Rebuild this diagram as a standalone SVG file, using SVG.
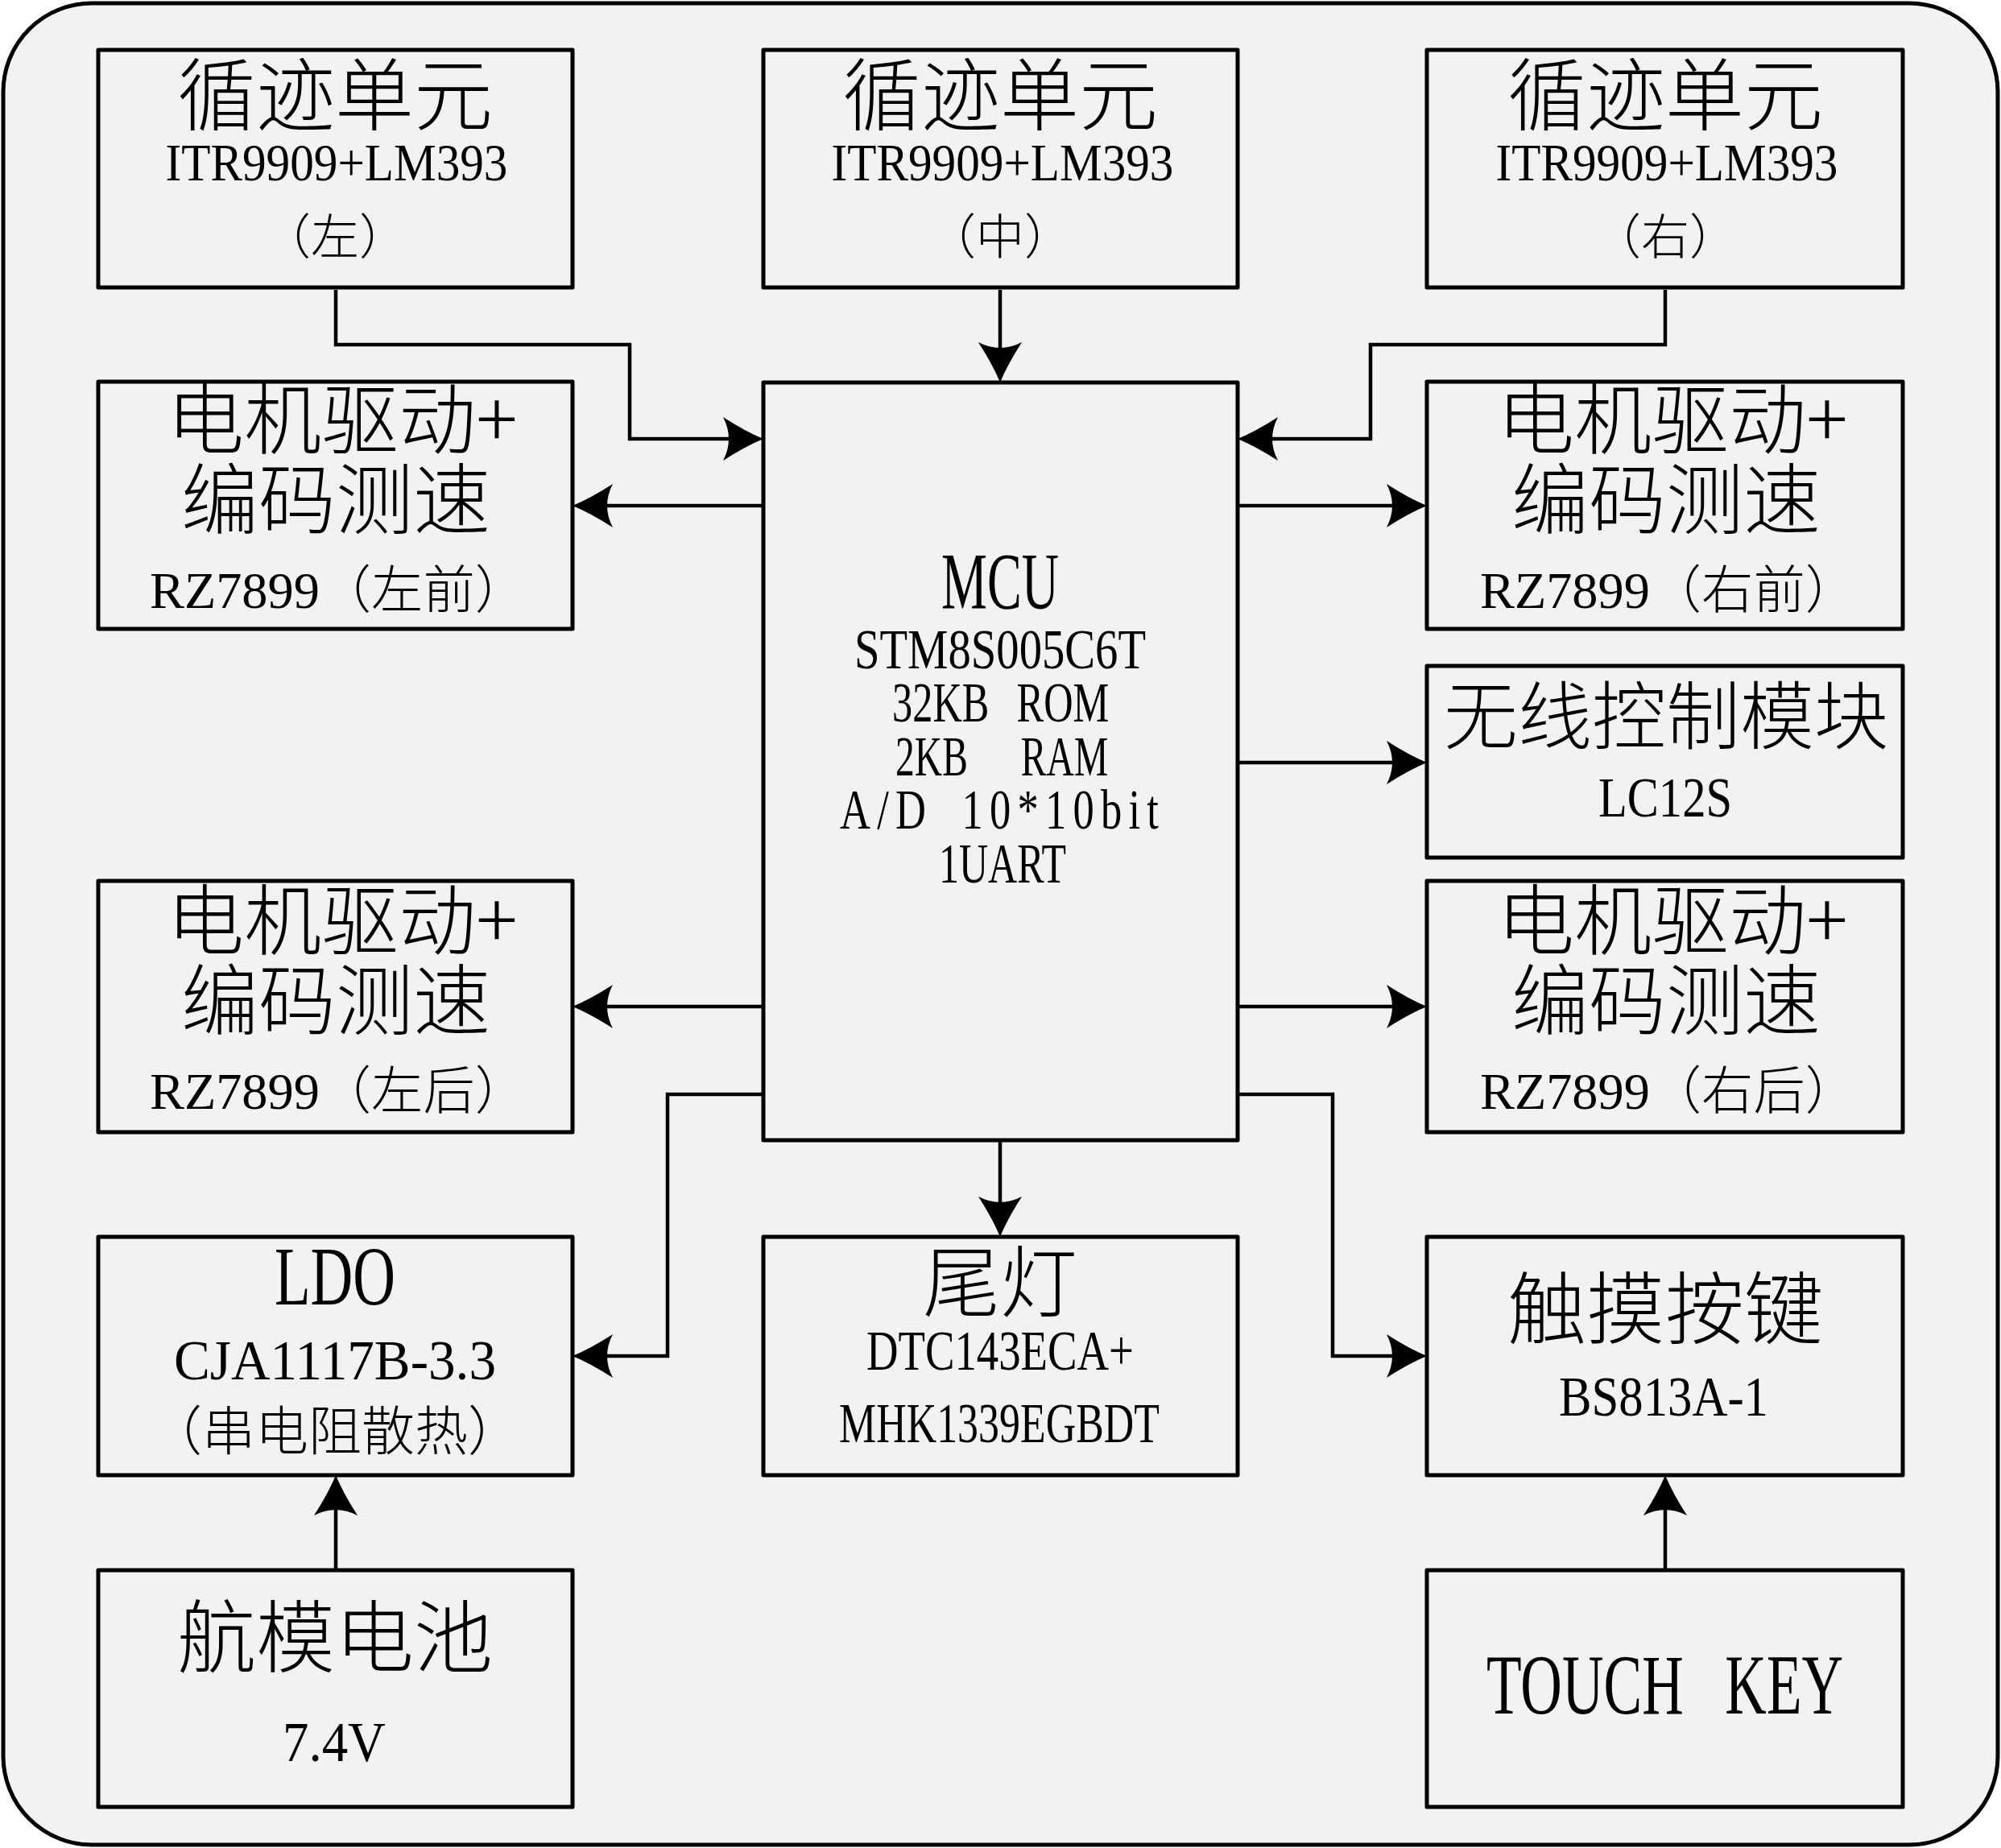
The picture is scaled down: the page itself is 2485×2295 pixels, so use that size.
<svg xmlns="http://www.w3.org/2000/svg" width="2485" height="2295" viewBox="0 0 2485 2295">
<style>
.box{fill:#f2f2f2;stroke:#000;stroke-width:5;stroke-linejoin:round}
.cn{fill:none;stroke:#000;stroke-width:4.5;stroke-linejoin:miter}
text{font-family:"Liberation Serif","Noto Sans CJK SC",serif;fill:#000;text-anchor:middle}
.zh{font-family:"Noto Sans CJK SC","Liberation Serif",sans-serif;font-weight:300}
.lat{font-size:70px}
.st{text-anchor:start}
</style>
<defs>
<marker id="ah" markerUnits="userSpaceOnUse" markerWidth="80" markerHeight="80" viewBox="0 -40 80 80" refX="50" refY="0" orient="auto" overflow="visible">
<path d="M58,0 Q36,-9 8,-27 Q22,0 8,27 Q36,9 58,0 Z" fill="#000"/>
</marker>
</defs>
<rect x="0" y="0" width="2485" height="2295" fill="#fff"/>
<rect x="4" y="4" width="2477" height="2287" rx="110" ry="110" fill="#f2f2f2" stroke="#000" stroke-width="5"/>

<g id="connectors">
<path class="cn" d="M417,360 V428 H782 V545 H940" marker-end="url(#ah)"/>
<path class="cn" d="M1242,360 V467" marker-end="url(#ah)"/>
<path class="cn" d="M2068,360 V428 H1702 V545 H1545" marker-end="url(#ah)"/>
<path class="cn" d="M948,628 H719" marker-end="url(#ah)"/>
<path class="cn" d="M1537,628 H1764" marker-end="url(#ah)"/>
<path class="cn" d="M1537,947 H1764" marker-end="url(#ah)"/>
<path class="cn" d="M948,1250 H719" marker-end="url(#ah)"/>
<path class="cn" d="M1537,1250 H1764" marker-end="url(#ah)"/>
<path class="cn" d="M948,1359 H829 V1684 H719" marker-end="url(#ah)"/>
<path class="cn" d="M1537,1359 H1655 V1684 H1764" marker-end="url(#ah)"/>
<path class="cn" d="M1242,1416 V1528" marker-end="url(#ah)"/>
<path class="cn" d="M417,1950 V1840" marker-end="url(#ah)"/>
<path class="cn" d="M2068,1950 V1840" marker-end="url(#ah)"/>
</g>

<g id="track-left">
<rect class="box" x="122" y="62" width="589" height="295"/>
<text class="zh" x="416" y="154" font-size="98">循迹单元</text>
<text x="418" y="224" font-size="66" textLength="425" lengthAdjust="spacingAndGlyphs">ITR9909+LM393</text>
<text class="zh" x="416" y="316" font-size="60">（左）</text>
</g>

<g id="track-center">
<rect class="box" x="948" y="62" width="589" height="295"/>
<text class="zh" x="1242" y="154" font-size="98">循迹单元</text>
<text x="1245" y="224" font-size="66" textLength="425" lengthAdjust="spacingAndGlyphs">ITR9909+LM393</text>
<text class="zh" x="1242" y="316" font-size="60">（中）</text>
</g>

<g id="track-right">
<rect class="box" x="1772" y="62" width="591" height="295"/>
<text class="zh" x="2068" y="154" font-size="98">循迹单元</text>
<text x="2070" y="224" font-size="66" textLength="425" lengthAdjust="spacingAndGlyphs">ITR9909+LM393</text>
<text class="zh" x="2068" y="316" font-size="60">（右）</text>
</g>

<g id="motor-lf">
<rect class="box" x="122" y="474" width="589" height="307"/>
<text class="zh" x="425" y="556" font-size="96">电机驱动+</text>
<text class="zh" x="417" y="655" font-size="96">编码测速</text>
<text x="420" y="755" font-size="64" textLength="468" lengthAdjust="spacingAndGlyphs">RZ7899<tspan class="zh">（左前）</tspan></text>
</g>

<g id="motor-rf">
<rect class="box" x="1772" y="474" width="591" height="307"/>
<text class="zh" x="2077" y="556" font-size="96">电机驱动+</text>
<text class="zh" x="2069" y="655" font-size="96">编码测速</text>
<text x="2072" y="755" font-size="64" textLength="468" lengthAdjust="spacingAndGlyphs">RZ7899<tspan class="zh">（右前）</tspan></text>
</g>

<g id="mcu">
<rect class="box" x="948" y="475" width="589" height="941"/>
<text x="1242" y="755" font-size="100" textLength="146" lengthAdjust="spacingAndGlyphs">MCU</text>
<text class="lat" x="1242" y="830" textLength="362" lengthAdjust="spacingAndGlyphs">STM8S005C6T</text>
<text class="lat st" transform="translate(1108,896) scale(0.72,1)" word-spacing="30">32KB ROM</text>
<text class="lat st" transform="translate(1112,963) scale(0.68,1)" word-spacing="31" xml:space="preserve" style="white-space:pre">2KB  RAM</text>
<text class="lat st" transform="translate(1043,1029) scale(0.75,1)" letter-spacing="11" word-spacing="20">A/D 10*10bit</text>
<text class="lat" x="1245" y="1096" textLength="158" lengthAdjust="spacingAndGlyphs">1UART</text>
</g>

<g id="wireless">
<rect class="box" x="1772" y="827" width="591" height="238"/>
<text class="zh" x="2069" y="923" font-size="92">无线控制模块</text>
<text class="lat" x="2068" y="1014" textLength="166" lengthAdjust="spacingAndGlyphs">LC12S</text>
</g>

<g id="motor-lr">
<rect class="box" x="122" y="1094" width="589" height="312"/>
<text class="zh" x="425" y="1178" font-size="96">电机驱动+</text>
<text class="zh" x="417" y="1277" font-size="96">编码测速</text>
<text x="420" y="1377" font-size="64" textLength="468" lengthAdjust="spacingAndGlyphs">RZ7899<tspan class="zh">（左后）</tspan></text>
</g>

<g id="motor-rr">
<rect class="box" x="1772" y="1094" width="591" height="312"/>
<text class="zh" x="2077" y="1178" font-size="96">电机驱动+</text>
<text class="zh" x="2069" y="1277" font-size="96">编码测速</text>
<text x="2072" y="1377" font-size="64" textLength="468" lengthAdjust="spacingAndGlyphs">RZ7899<tspan class="zh">（右后）</tspan></text>
</g>

<g id="ldo">
<rect class="box" x="122" y="1536" width="589" height="296"/>
<text x="416" y="1620" font-size="104" textLength="150" lengthAdjust="spacingAndGlyphs">LDO</text>
<text class="lat" x="416" y="1713" textLength="400" lengthAdjust="spacingAndGlyphs">CJA1117B-3.3</text>
<text class="zh" x="416" y="1801" font-size="66">（串电阻散热）</text>
</g>

<g id="taillight">
<rect class="box" x="948" y="1536" width="589" height="296"/>
<text class="zh" x="1242" y="1627" font-size="96">尾灯</text>
<text class="lat" x="1242" y="1701" textLength="332" lengthAdjust="spacingAndGlyphs">DTC143ECA+</text>
<text class="lat" x="1241" y="1791" textLength="398" lengthAdjust="spacingAndGlyphs">MHK1339EGBDT</text>
</g>

<g id="touch">
<rect class="box" x="1772" y="1536" width="591" height="296"/>
<text class="zh" x="2068" y="1661" font-size="98">触摸按键</text>
<text class="lat" x="2066" y="1758" textLength="260" lengthAdjust="spacingAndGlyphs">BS813A-1</text>
</g>

<g id="battery">
<rect class="box" x="122" y="1950" width="589" height="294"/>
<text class="zh" x="416" y="2069" font-size="98">航模电池</text>
<text class="lat" x="415" y="2187" textLength="128" lengthAdjust="spacingAndGlyphs">7.4V</text>
</g>

<g id="touchkey">
<rect class="box" x="1772" y="1950" width="591" height="294"/>
<text class="st" transform="translate(1846,2128) scale(0.674,1)" font-size="106" word-spacing="50">TOUCH KEY</text>
</g>
</svg>
